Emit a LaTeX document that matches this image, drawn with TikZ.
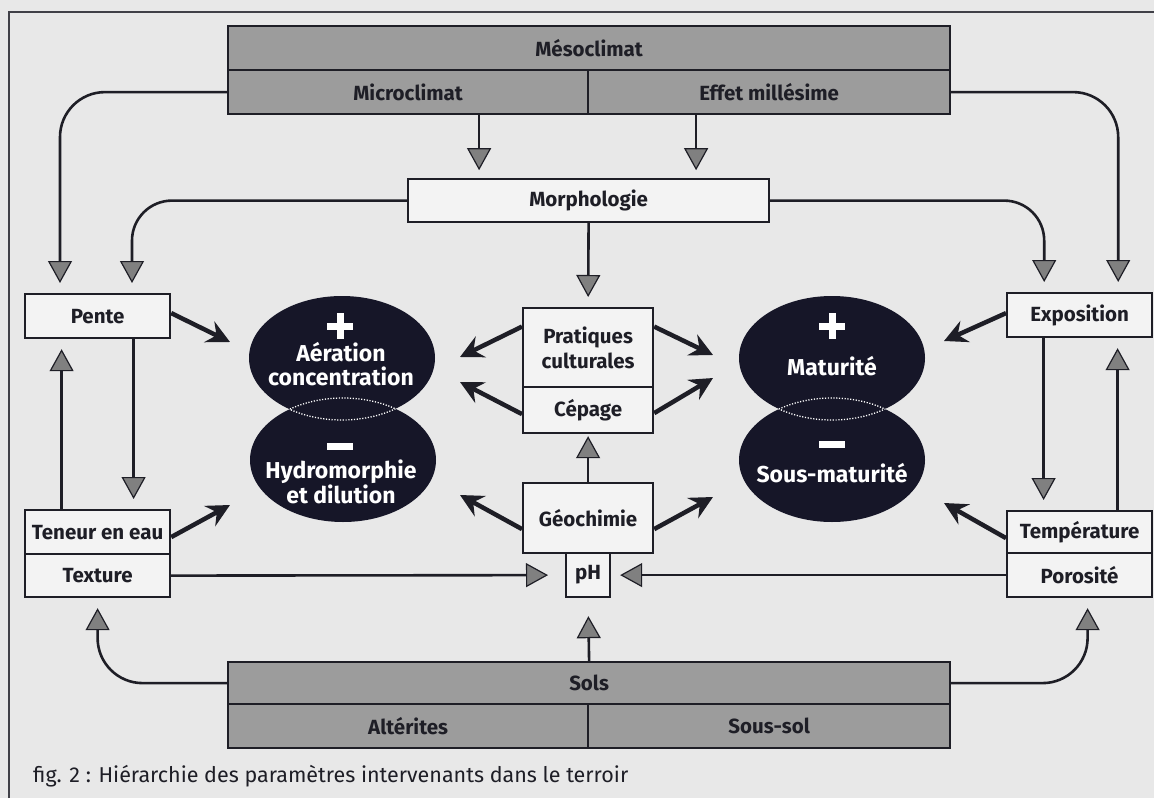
\documentclass[tikz,border=0pt]{standalone}
\usepackage{fontspec}
\setmainfont{Fira Sans}
\usetikzlibrary{arrows.meta,shapes.geometric}
\definecolor{paper}{RGB}{232,232,232}
\definecolor{boxw}{RGB}{243,243,243}
\definecolor{boxg}{RGB}{156,156,156}
\definecolor{ink}{RGB}{30,30,38}
\definecolor{agray}{RGB}{128,128,128}
\definecolor{ellc}{RGB}{22,22,40}
\begin{document}
\begin{tikzpicture}[x=1pt,y=-1pt,
  lbl/.style={font=\fontsize{20.5}{25}\selectfont\bfseries, text=ink},
  wbox/.style={draw=ink, line width=2.2pt, fill=boxw, inner sep=0pt, anchor=north west, lbl, align=center},
  gbox/.style={wbox, fill=boxg},
  garrow/.style={draw=ink, line width=2.6pt, -{Triangle[length=22pt,width=24pt,fill=agray,line width=1.2pt]}, shorten >=10pt},
  barrow/.style={draw=ink, line width=4.5pt, -{Stealth[length=23pt,width=23pt,inset=8pt]}},
  ell/.style={ellipse, fill=ellc, draw=none, inner sep=0pt, minimum width=186pt, minimum height=124pt},
  wtext/.style={font=\fontsize{23}{23.5}\selectfont\bfseries, text=white, align=center, inner sep=0pt},
  sign/.style={draw=white, line width=7pt},
  dots/.style={draw=white, line width=1.3pt, dash pattern=on 1.2pt off 1.6pt}
]
\useasboundingbox (0,0) rectangle (1154,798);
\fill[paper] (0,0) rectangle (1154,798);
% frame
\draw[ink!85, line width=2pt] (9,798) -- (9,12) -- (1154,12);

% top boxes
\node[gbox, minimum width=722pt, minimum height=44pt] (meso) at (227,25) {Mésoclimat};
\node[gbox, minimum width=360pt, minimum height=44pt] (micro) at (227,69) {Microclimat};
\node[gbox, minimum width=362pt, minimum height=44pt] (effet) at (587,69) {Effet millésime};
\node[wbox, minimum width=361pt, minimum height=43pt] (morph) at (407,178) {Morphologie};

% side boxes
\node[wbox, minimum width=145pt, minimum height=44pt] (pente) at (24,293) {Pente};
\node[wbox, minimum width=145pt, minimum height=44pt] (expo) at (1006,292) {Exposition};
\node[wbox, minimum width=145pt, minimum height=44pt] (teneur) at (24,509) {Teneur en eau};
\node[wbox, minimum width=145pt, minimum height=43pt] (texture) at (24,553) {Texture};
\node[wbox, minimum width=145pt, minimum height=42pt] (temp) at (1006,510) {Température};
\node[wbox, minimum width=145pt, minimum height=44pt] (poro) at (1006,552) {Porosité};

% centre boxes
\node[wbox, minimum width=130pt, minimum height=79pt] (prat) at (522,307) {Pratiques\\culturales};
\node[wbox, minimum width=130pt, minimum height=46pt] (cepage) at (522,386) {Cépage};
\node[wbox, minimum width=130pt, minimum height=70pt] (geo) at (522,482) {Géochimie};
\node[wbox, minimum width=44pt, minimum height=44pt] (ph) at (565,552) {pH};

% bottom boxes
\node[gbox, minimum width=722pt, minimum height=42pt] (sols) at (227,661) {Sols};
\node[gbox, minimum width=360pt, minimum height=44pt] (alter) at (227,703) {Altérites};
\node[gbox, minimum width=362pt, minimum height=44pt] (soussol) at (587,703) {Sous-sol};

% ellipses
\node[ell] (e1) at (342,358) {};
\node[ell] (e2) at (343,460) {};
\node[ell] (e3) at (832,358) {};
\node[ell] (e4) at (832,460) {};
\begin{scope}
  \clip (342,358) ellipse [x radius=93pt, y radius=62pt];
  \draw[dots] (343,460) ellipse [x radius=93pt, y radius=62pt];
\end{scope}
\begin{scope}
  \clip (343,460) ellipse [x radius=93pt, y radius=62pt];
  \draw[dots] (342,358) ellipse [x radius=93pt, y radius=62pt];
\end{scope}
\begin{scope}
  \clip (832,358) ellipse [x radius=93pt, y radius=62pt];
  \draw[dots] (832,460) ellipse [x radius=93pt, y radius=62pt];
\end{scope}
\begin{scope}
  \clip (832,460) ellipse [x radius=93pt, y radius=62pt];
  \draw[dots] (832,358) ellipse [x radius=93pt, y radius=62pt];
\end{scope}
% signs
\draw[sign] (340,313) -- (340,339) (327,326) -- (353,326);
\draw[sign] (327,446) -- (353,446);
\draw[sign] (832,313) -- (832,339) (819,326) -- (845,326);
\draw[sign] (819,444) -- (845,444);
% ellipse texts
\node[wtext] (t1) at (341,364) {Aération\\concentration};
\node[wtext] (t2) at (341,482) {Hydromorphie\\et dilution};
\node[wtext] (t3) at (832,366) {Maturité};
\node[wtext] (t4) at (832,473) {Sous-maturité};

% grey connectors
\draw[garrow, rounded corners=45pt] (micro.west) -| ([xshift=36pt]pente.north west);
\draw[garrow, rounded corners=40pt] (morph.west) -| ([xshift=108pt]pente.north west);
\draw[garrow, rounded corners=45pt] (effet.east) -| ([xshift=-35pt]expo.north east);
\draw[garrow, rounded corners=40pt] (morph.east) -| ([xshift=-109pt]expo.north east);
\draw[garrow] ([xshift=71pt]micro.south) -- ++(0,65);
\draw[garrow] ([xshift=-73pt]effet.south) -- ++(0,65);
\draw[garrow] (morph.south) -- (prat.north);
\draw[garrow, shorten >=2pt] (geo.north) -- (cepage.south);
\draw[garrow] ([xshift=36pt]pente.south) -- ([xshift=36pt]teneur.north);
\draw[garrow] ([xshift=-36pt]teneur.north) -- ([xshift=-36pt]pente.south);
\draw[garrow] ([xshift=-36pt]expo.south) -- ([xshift=-36pt]temp.north);
\draw[garrow] ([xshift=38pt]temp.north) -- ([xshift=38pt]expo.south);
\draw[garrow, shorten >=17pt] (texture.east) -- (ph.west);
\draw[garrow, shorten >=9pt] (poro.west) -- (ph.east);
\draw[garrow, shorten >=18pt] (sols.north) -- (ph.south);
\draw[garrow, rounded corners=45pt] (sols.west) -| (texture.south);
\draw[garrow, rounded corners=45pt] (sols.east) -| ([xshift=8pt]poro.south);

% black arrows
\coordinate (a1) at (230,342);
\coordinate (a2) at (230,505);
\coordinate (a3) at (460,357);
\coordinate (a4) at (460,382);
\coordinate (a5) at (460,495);
\coordinate (a6) at (713,355);
\coordinate (a7) at (713,378);
\coordinate (a8) at (713,497);
\coordinate (a9) at (944,341);
\coordinate (a10) at (944,503);
\draw[barrow] ([yshift=3pt]pente.east) -- (a1);
\draw[barrow] ([yshift=-5pt]teneur.east) -- (a2);
\draw[barrow] ([yshift=21pt]prat.west) -- (a3);
\draw[barrow] ([yshift=-4pt]cepage.west) -- (a4);
\draw[barrow] ([yshift=-11pt]geo.west) -- (a5);
\draw[barrow] ([yshift=21pt]prat.east) -- (a6);
\draw[barrow] ([yshift=-3pt]cepage.east) -- (a7);
\draw[barrow] ([yshift=-11pt]geo.east) -- (a8);
\draw[barrow] ([yshift=2pt]expo.west) -- (a9);
\draw[barrow] ([yshift=-6pt]temp.west) -- (a10);

% caption
\node[anchor=base west, inner sep=0pt, font=\fontsize{21.5}{24}\selectfont, text=ink] (cap) at (33,782) {fig. 2 : Hiérarchie des paramètres intervenants dans le terroir};
\end{tikzpicture}
\end{document}
